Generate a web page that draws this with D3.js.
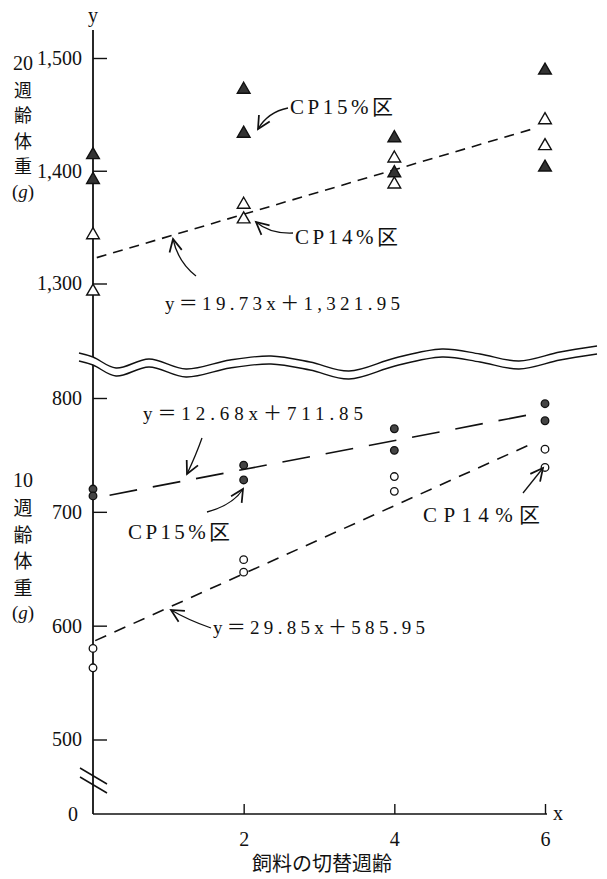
<!DOCTYPE html>
<html>
<head>
<meta charset="utf-8">
<script src="https://cdn.jsdelivr.net/npm/d3@7"></script>
<style>
  body { margin: 0; background: #fff; }
  text { font-family: "Liberation Serif", "Noto Sans CJK JP", serif; fill: #111; }
  .jp { font-family: "Noto Sans CJK JP", sans-serif; }
</style>
</head>
<body>
<div id="chart"></div>
<script>
// Data
var switchWeeks = [0, 2, 4, 6];
// 20-week body weight (g), two birds per group
var wt20CP15 = [[1414, 1392], [1472, 1433], [1429, 1398], [1489, 1403]];
var wt20CP14 = [[1343, 1293], [1370, 1357], [1411, 1388], [1445, 1422]];
// 10-week body weight (g)
var wt10CP15 = [[720, 714], [741, 728], [773, 754], [795, 780]];
var wt10CP14 = [[580, 563], [658, 647], [731, 718], [755, 739]];
// regression lines [slope, intercept]
var fit20CP14 = [19.73, 1321.95];
var fit10CP15 = [12.68, 711.85];
var fit10CP14 = [29.85, 585.95];
var upperTicks = [1300, 1400, 1500];
var lowerTicks = [500, 600, 700, 800];
var xTicks = [2, 4, 6];

var W = 607, H = 879;
var axisX = 93, baseY = 814;

var svg = d3.select("#chart").append("svg")
    .attr("width", W).attr("height", H);
svg.append("rect").attr("width", W).attr("height", H).attr("fill", "#fff");

// Scales
var x = d3.scaleLinear().domain([0, 6]).range([axisX, 545]);
var yUp = d3.scaleLinear().domain([1300, 1500]).range([283.5, 58]);
var yLo = d3.scaleLinear().domain([500, 800]).range([739.5, 398]);

// arrow head marker
svg.append("defs").append("marker")
    .attr("id", "arr")
    .attr("markerUnits", "userSpaceOnUse")
    .attr("markerWidth", 20).attr("markerHeight", 20)
    .attr("viewBox", "-12 -8 16 16")
    .attr("refX", 0).attr("refY", 0)
    .attr("orient", "auto")
    .append("path")
    .attr("d", "M-10,-5 L0,0 L-10,5")
    .attr("fill", "none").attr("stroke", "#111").attr("stroke-width", 1.4);

// y axis line
svg.append("line")
    .attr("x1", axisX).attr("x2", axisX)
    .attr("y1", 30).attr("y2", baseY)
    .attr("stroke", "#111").attr("stroke-width", 1.8);
// x axis line
svg.append("line")
    .attr("x1", axisX).attr("x2", x(6) + 2)
    .attr("y1", baseY).attr("y2", baseY)
    .attr("stroke", "#111").attr("stroke-width", 1.5);

function styleAxis(g) {
  g.select(".domain").remove();
  g.selectAll(".tick line").attr("stroke", "#111").attr("stroke-width", 1.4);
  g.selectAll(".tick text").attr("font-size", 20).attr("fill", "#111")
      .attr("font-family", "Liberation Serif");
}

svg.append("g")
    .attr("transform", "translate(" + axisX + ",0)")
    .call(d3.axisLeft(yUp).tickValues(upperTicks).tickFormat(d3.format(","))
        .tickSizeInner(-14).tickSizeOuter(0).tickPadding(11))
    .call(styleAxis);

svg.append("g")
    .attr("transform", "translate(" + axisX + ",0)")
    .call(d3.axisLeft(yLo).tickValues(lowerTicks).tickFormat(d3.format("d"))
        .tickSizeInner(-14).tickSizeOuter(0).tickPadding(11))
    .call(styleAxis);

svg.append("g")
    .attr("transform", "translate(0," + baseY + ")")
    .call(d3.axisBottom(x).tickValues(xTicks).tickFormat(d3.format("d"))
        .tickSizeInner(-10).tickSizeOuter(0).tickPadding(18))
    .call(styleAxis);

svg.append("text").attr("x", 73).attr("y", baseY + 7)
    .attr("text-anchor", "middle").attr("font-size", 20).text("0");
svg.append("text").attr("x", axisX).attr("y", 22)
    .attr("text-anchor", "middle").attr("font-size", 20).text("y");
svg.append("text").attr("x", x(6) + 8).attr("y", baseY + 6)
    .attr("font-size", 20).text("x");

// axis break marks
[0, 9].forEach(function (o) {
  svg.append("line")
      .attr("x1", axisX - 13).attr("y1", 768 + o)
      .attr("x2", axisX + 14).attr("y2", 784 + o)
      .attr("stroke", "#111").attr("stroke-width", 1.5);
});

// wavy break band between the two panels
var wave = [[79, 353], [93, 357], [116, 368], [149, 359], [186, 369], [230, 360],
  [271, 356], [310, 362], [349, 371], [395, 358], [442, 349], [480, 354],
  [519, 361], [560, 352], [597, 346]];
var band = d3.area().curve(d3.curveCatmullRom)
    .x(function (d) { return d[0]; })
    .y0(function (d) { return d[1]; })
    .y1(function (d) { return d[1] + 8; });
svg.append("path").datum(wave).attr("d", band).attr("fill", "#fff");
var waveLine = d3.line().curve(d3.curveCatmullRom);
svg.append("path").datum(wave).attr("d", waveLine)
    .attr("fill", "none").attr("stroke", "#111").attr("stroke-width", 1.4);
svg.append("path").datum(wave.map(function (d) { return [d[0], d[1] + 8]; }))
    .attr("d", waveLine)
    .attr("fill", "none").attr("stroke", "#111").attr("stroke-width", 1.4);

// regression lines
function fitLine(fit, yScale, x0, x1, dash) {
  svg.append("line")
      .attr("x1", x(x0)).attr("y1", yScale(fit[1] + fit[0] * x0))
      .attr("x2", x(x1)).attr("y2", yScale(fit[1] + fit[0] * x1))
      .attr("stroke", "#111").attr("stroke-width", 1.6)
      .attr("stroke-dasharray", dash);
}
fitLine(fit20CP14, yUp, 0.05, 5.85, "10,7");
fitLine(fit10CP15, yLo, 0.22, 5.85, "28,16");
fitLine(fit10CP14, yLo, 0.03, 5.82, "12,9");

// flatten pairs into points
function pts(series) {
  var out = [];
  series.forEach(function (pair, i) {
    pair.forEach(function (v) { out.push({ x: switchWeeks[i], v: v }); });
  });
  return out;
}

var tri = d3.symbol().type(d3.symbolTriangle).size(70);
function triangles(series, filled) {
  svg.append("g").selectAll("path")
      .data(pts(series)).enter().append("path")
      .attr("d", tri)
      .attr("transform", function (d) { return "translate(" + x(d.x) + "," + yUp(d.v) + ")"; })
      .attr("fill", filled ? "#333" : "#fff")
      .attr("stroke", "#111").attr("stroke-width", 1.4);
}
triangles(wt20CP14, false);
triangles(wt20CP15, true);

function circles(series, filled) {
  svg.append("g").selectAll("circle")
      .data(pts(series)).enter().append("circle")
      .attr("cx", function (d) { return x(d.x); })
      .attr("cy", function (d) { return yLo(d.v); })
      .attr("r", 3.8)
      .attr("fill", filled ? "#444" : "#fff")
      .attr("stroke", "#111").attr("stroke-width", 1.3);
}
circles(wt10CP14, false);
circles(wt10CP15, true);

// side labels, stacked vertically in one text element
function sideLabel(num, y0, step, size) {
  var t = svg.append("text")
      .attr("text-anchor", "middle").attr("dominant-baseline", "central");
  var parts = [num, "週", "齢", "体", "重"];
  parts.forEach(function (c, i) {
    t.append("tspan")
        .attr("x", 23).attr("y", y0 + i * step)
        .attr("font-size", i === 0 ? 20 : size)
        .attr("font-family", i === 0 ? "Liberation Serif" : "Noto Sans CJK JP")
        .text(c);
  });
  t.append("tspan").attr("x", 23).attr("y", y0 + 5 * step)
      .attr("font-size", 19).attr("font-family", "Liberation Serif")
      .html("(<tspan font-style='italic'>g</tspan>)");
}
sideLabel("20", 63, 25.5, 18);
sideLabel("10", 480, 26.4, 19);

// annotation texts
function label(txt, x0, yc, len, size) {
  svg.append("text")
      .attr("x", x0).attr("y", yc)
      .attr("dominant-baseline", "central")
      .attr("font-size", size)
      .attr("textLength", len).attr("lengthAdjust", "spacing")
      .text(txt);
}
label("CP15%区", 290, 107, 103, 21);
label("CP14%区", 295, 237, 103, 21);
label("y＝19.73x＋1,321.95", 165, 303, 235, 19);
label("y＝12.68x＋711.85", 143, 413, 220, 19);
label("CP15%区", 128, 532, 102, 21);
label("CP14%区", 423, 515, 117, 21);
label("y＝29.85x＋585.95", 213, 627, 212, 19);

svg.append("text")
    .attr("x", 322).attr("y", 862)
    .attr("text-anchor", "middle").attr("dominant-baseline", "central")
    .attr("class", "jp").attr("font-size", 20)
    .text("飼料の切替週齢");

// annotation arrows
function arrow(d) {
  svg.append("path").attr("d", d)
      .attr("fill", "none").attr("stroke", "#111").attr("stroke-width", 1.3)
      .attr("marker-end", "url(#arr)");
}
arrow("M288,108 Q268,112 258,129");
arrow("M293,233 Q270,234 256,222");
arrow("M196,276 Q178,262 173,239");
arrow("M202,438 Q196,455 187,474");
arrow("M207,512 Q233,505 243,489");
arrow("M523,493 L543,468");
arrow("M211,628 Q188,620 171,610");
</script>
</body>
</html>
